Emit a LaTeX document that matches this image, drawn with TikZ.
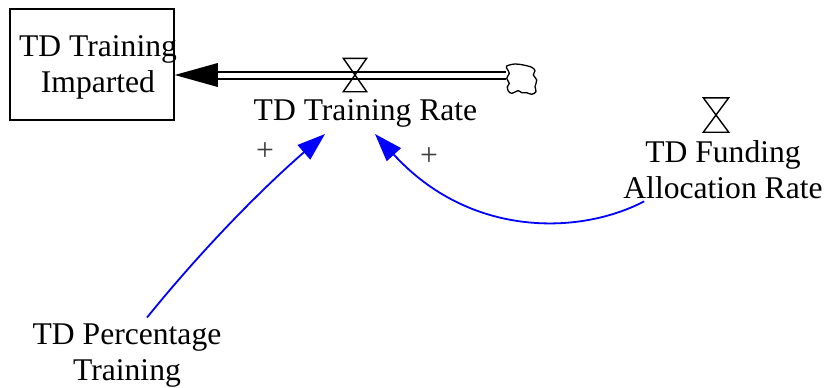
\documentclass[tikz,border=0pt]{standalone}
\usepackage{fontspec}
\setmainfont{Liberation Serif}
\usetikzlibrary{arrows.meta,calc}
\definecolor{linkblue}{RGB}{0,0,255}
\definecolor{signgray}{RGB}{60,60,60}
\tikzset{
  x=1pt, y=-1pt,
  lbl/.style={font=\fontsize{31.6}{36}\selectfont, align=center, inner sep=0pt},
  stockbox/.style={draw=black, line width=1.5pt, minimum width=164pt, minimum height=111pt, inner sep=0pt},
  valvebox/.style={minimum width=23pt, minimum height=33pt, inner sep=0pt},
  valvedraw/.style={draw=black, line width=1.4pt, line join=miter},
  pipe/.style={draw=black, line width=2pt, double=white, double distance=5pt},
  cloudbox/.style={minimum width=30pt, minimum height=30pt, inner sep=0pt},
  clouddraw/.style={draw=black, line width=1.3pt, fill=white},
  link/.style={draw=linkblue, line width=1.8pt, -{Triangle[length=28pt,width=19pt]}},
  sign/.style={font=\fontsize{31.6}{36}\selectfont, text=signgray, inner sep=0pt}
}
\begin{document}
\begin{tikzpicture}
\useasboundingbox (0,0) rectangle (827,388);
% stock
\node[stockbox] (stock) at (92,64.5) {};
\node[lbl] (stocklbl) at (98,67.8) {TD Training\\Imparted};
% flow
\node[valvebox] (v1) at (355,75) {};
\node[cloudbox] (cl) at (521.5,79) {};
\draw[pipe] ($(stock.east |- v1)+(20,0)$) -- (cl.west |- v1);
\begin{scope}[shift={(cl)}]
\draw[clouddraw] plot[smooth cycle, tension=0.55] coordinates {
 (-14.8,-13) (-6.5,-15) (1.8,-14) (10.2,-11.7) (13.5,-8.3) (11.8,-4)
 (15.2,1) (13.5,7.7) (14.5,12.7) (10.2,15.3) (5.2,13.7) (0.2,13.7)
 (-3.2,11.7) (-9.8,14.3) (-13.2,12) (-14.2,7.7) (-12.2,4.3) (-14.8,-0.7)
 (-12.2,-5.7) (-14.2,-9.7)};
\end{scope}
\fill[black] (stock.east |- v1) -- ++(43,-12) -- ++(0,24) -- cycle;
\draw[valvedraw] (v1.north west) -- (v1.north east) -- (v1.south west) -- (v1.south east) -- cycle;
\node[lbl, anchor=base] (rate) at (365.5,120) {TD Training Rate};
% funding allocation rate
\node[valvebox, minimum width=25pt, minimum height=34pt] (v2) at (716,115) {};
\draw[valvedraw] (v2.north west) -- (v2.north east) -- (v2.south west) -- (v2.south east) -- cycle;
\node[lbl] (fund) at (723,170) {TD Funding\\Allocation Rate};
% percentage
\node[lbl] (perc) at (127,356) {TD Percentage\\Training};
% links
\coordinate (p1s) at ($(perc.north)+(20,-6.5)$);
\coordinate (p1e) at ($(rate.base)+(-40.5,14)$);
\draw[link] (p1s) .. controls (201.3,250.4) and (260.7,189.8) .. (p1e);
\coordinate (p2s) at ($(fund.south west)+(21,2)$);
\coordinate (p2e) at ($(rate.base)+(9.5,14)$);
\draw[link] (p2s) .. controls (580,235) and (470,238) .. (p2e);
% polarity signs
\node[sign] (s1) at (265,152) {+};
\node[sign] (s2) at (429,157) {+};
\end{tikzpicture}
\end{document}
